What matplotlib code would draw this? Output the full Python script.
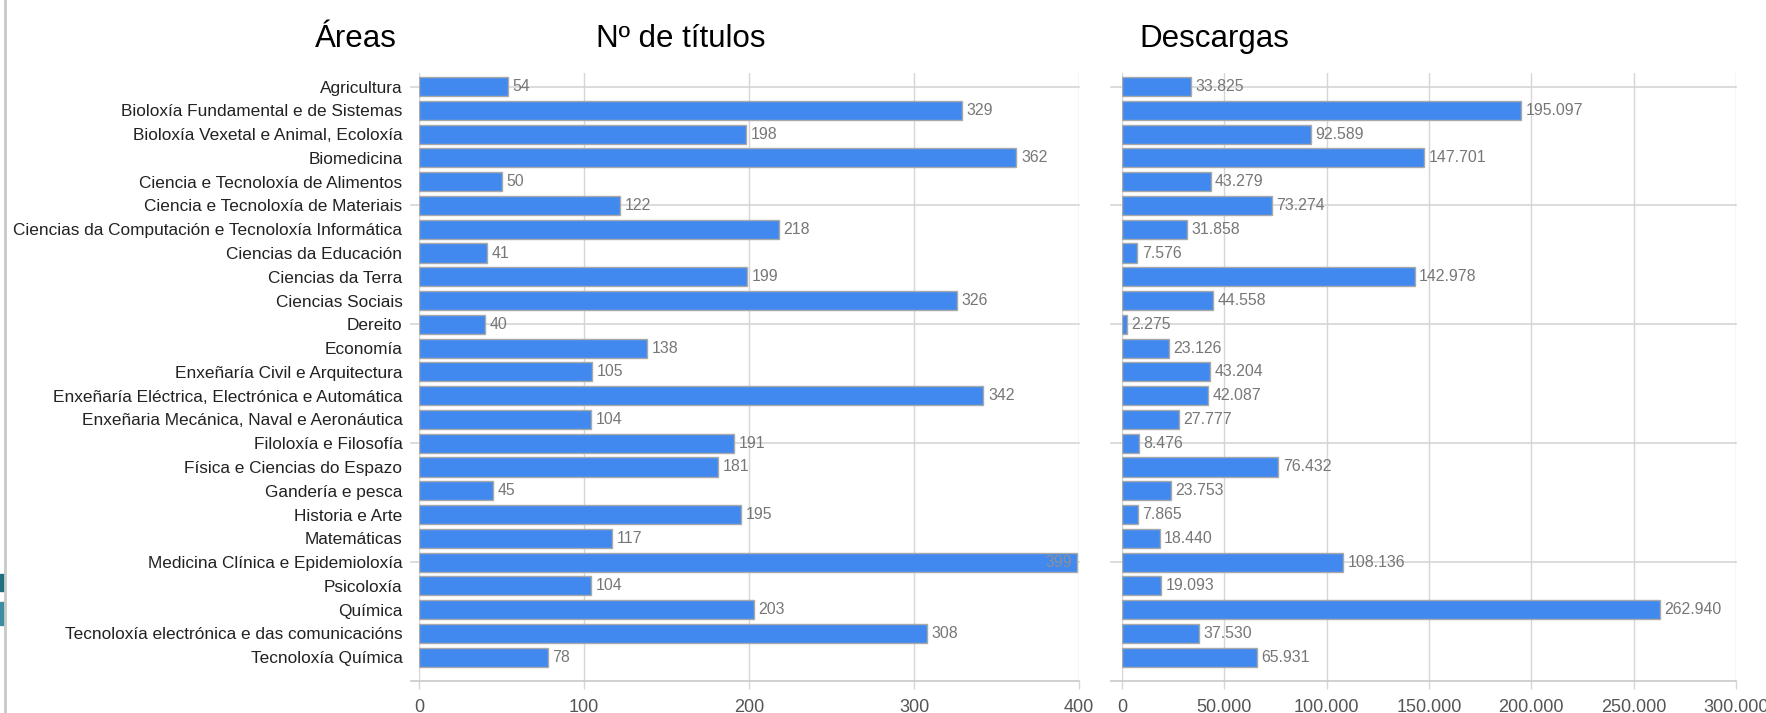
import matplotlib.pyplot as plt
from matplotlib.lines import Line2D
from matplotlib.patches import Rectangle

# ──────────────────────────────────────────
# DATA
# ──────────────────────────────────────────
areas = [
    "Agricultura",
    "Bioloxía Fundamental e de Sistemas",
    "Bioloxía Vexetal e Animal, Ecoloxía",
    "Biomedicina",
    "Ciencia e Tecnoloxía de Alimentos",
    "Ciencia e Tecnoloxía de Materiais",
    "Ciencias da Computación e Tecnoloxía Informática",
    "Ciencias da Educación",
    "Ciencias da Terra",
    "Ciencias Sociais",
    "Dereito",
    "Economía",
    "Enxeñaría Civil e Arquitectura",
    "Enxeñaría Eléctrica, Electrónica e Automática",
    "Enxeñaria Mecánica, Naval e Aeronáutica",
    "Filoloxía e Filosofía",
    "Física e Ciencias do Espazo",
    "Gandería e pesca",
    "Historia e Arte",
    "Matemáticas",
    "Medicina Clínica e Epidemioloxía",
    "Psicoloxía",
    "Química",
    "Tecnoloxía electrónica e das comunicacións",
    "Tecnoloxía Química",
]
titulos = [54, 329, 198, 362, 50, 122, 218, 41, 199, 326, 40, 138, 105,
           342, 104, 191, 181, 45, 195, 117, 399, 104, 203, 308, 78]
descargas = [33825, 195097, 92589, 147701, 43279, 73274, 31858, 7576,
             142978, 44558, 2275, 23126, 43204, 42087, 27777, 8476, 76432,
             23753, 7865, 18440, 108136, 19093, 262940, 37530, 65931]
titulos_ticks = [0, 100, 200, 300, 400]
descargas_ticks = [0, 50000, 100000, 150000, 200000, 250000, 300000]
hgrid_at = [0, 5, 10, 15, 20, 25]

BLUE = "#4189EE"
EDGE = "#a9a9a9"
GRID = "#d6d6d6"
FONT = "Liberation Sans"

plt.rcParams["font.family"] = [FONT, "DejaVu Sans"]


def fmt(v):
    return f"{v:,}".replace(",", ".")


def draw_panel(ax, values, ticks, xmax, ext, show_labels):
    n = len(values)
    ypos = list(range(n))
    ax.set_xlim(0, xmax)
    ax.set_ylim(25, -0.57)

    # vertical grid
    for t in ticks:
        ax.axvline(t, color=GRID, lw=1, zorder=0)
    # horizontal grid every 5 categories, sticking out left of the axis
    for y in hgrid_at:
        ax.plot([-ext, 1], [y, y], transform=ax.get_yaxis_transform(),
                color=GRID if y != 25 else "#c8c8c8", lw=1.2, clip_on=False, zorder=0)

    ax.barh(ypos, values, height=0.8, color=BLUE, edgecolor=EDGE, lw=1, zorder=2)

    for y, v in zip(ypos, values):
        if v / xmax > 0.95:
            ax.text(v - xmax * 0.008, y, fmt(v), ha="right", va="center",
                    fontsize=11.4, color="#8a8f99", zorder=3)
        else:
            ax.text(v + xmax * 0.007, y, fmt(v), ha="left", va="center",
                    fontsize=11.4, color="#777777", zorder=3)

    for s in ax.spines.values():
        s.set_visible(False)
    ax.set_xticks(ticks)
    ax.set_xticklabels([fmt(t) for t in ticks], fontsize=13, color="#555555")
    ax.tick_params(axis="x", length=6, width=1, color=GRID, pad=7)
    if show_labels:
        ax.set_yticks(ypos)
        ax.set_yticklabels(areas, fontsize=12.4, color="#222222")
        ax.tick_params(axis="y", length=0, pad=12)
    else:
        ax.set_yticks([])


fig = plt.figure(figsize=(17.66, 7.13), dpi=100)
ax1 = fig.add_axes([0.2373, 0.0449, 0.3737, 0.8527])
ax2 = fig.add_axes([0.6353, 0.0449, 0.3477, 0.8527])

draw_panel(ax1, titulos, titulos_ticks, 400, 0.012, True)
draw_panel(ax2, descargas, descargas_ticks, 300000, 0.018, False)

fig.text(0.2016, 0.945, "Áreas", ha="center", va="center", fontsize=22.5)
fig.text(0.3856, 0.945, "Nº de títulos", ha="center", va="center", fontsize=22.5)
fig.text(0.6874, 0.945, "Descargas", ha="center", va="center", fontsize=22.5)

# left window border and edge artefacts
fig.add_artist(Line2D([0.003, 0.003], [0, 1], color="#c8c8c8", lw=2))
fig.add_artist(Rectangle((0.0, 0.171), 0.0025, 0.024, color="#1f6f80"))
fig.add_artist(Rectangle((0.0, 0.123), 0.0025, 0.033, color="#3c8ea0"))

fig.savefig("out.png", dpi=100)
